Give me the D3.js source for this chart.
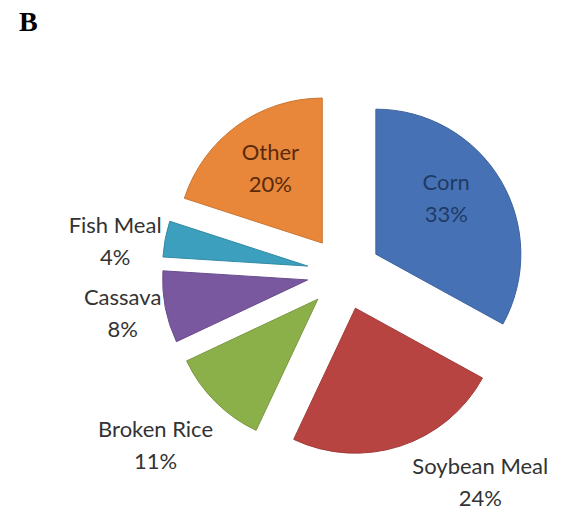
<!DOCTYPE html>
<html>
<head>
<meta charset="utf-8">
<script src="https://cdn.jsdelivr.net/npm/d3@7"></script>
<style>
  body { margin: 0; background: #fff; }
  svg { display: block; }
</style>
</head>
<body>
<svg id="chart"></svg>
<script>
const categories = ['Corn', 'Soybean Meal', 'Broken Rice', 'Cassava', 'Fish Meal', 'Other']
const values = [33, 24, 11, 8, 4, 20]
const colors = ['#4672b5', '#b84442', '#8bb04a', '#7a58a0', '#3b9fbd', '#e8873a']

const width = 571
const height = 516
const cx = 344
const cy = 273
const radius = 145
const explode = 37

const svg = d3.select('#chart').attr('width', width).attr('height', height)

svg.append('text')
  .attr('x', 19)
  .attr('y', 31)
  .attr('font-family', 'Liberation Serif, serif')
  .attr('font-weight', 'bold')
  .attr('font-size', 28)
  .text('B')

const pie = d3.pie().sort(null).value(d => d)
const arcs = pie(values)
const arc = d3.arc().innerRadius(0).outerRadius(radius)

const g = svg.append('g').attr('transform', 'translate(' + cx + ',' + cy + ')')

const offset = d => {
  const a = (d.startAngle + d.endAngle) / 2
  return [Math.sin(a) * explode, -Math.cos(a) * explode]
}

g.selectAll('path')
  .data(arcs)
  .enter()
  .append('path')
  .attr('d', arc)
  .attr('transform', d => 'translate(' + offset(d) + ')')
  .attr('fill', (d, i) => colors[i])
  .attr('stroke', (d, i) => d3.color(colors[i]).darker(0.4))
  .attr('stroke-width', 1)

// label placement: radial distance (fraction of radius) plus a small nudge
const labelDist = [0.62, 1.38, 1.3, 1.32, 1.38, 0.62]
const labelDx = [-7, 63, -29, 3, 4, 1]
const labelDy = [-10, -16, 13, -3, 12, -2]
const labelColor = ['#1f3a66', '#333', '#333', '#333', '#333', '#5a2a0c']

const labels = g.selectAll('g.lbl')
  .data(arcs)
  .enter()
  .append('g')
  .attr('class', 'lbl')
  .attr('transform', (d, i) => {
    const a = (d.startAngle + d.endAngle) / 2
    const o = offset(d)
    const r = radius * labelDist[i]
    const x = o[0] + Math.sin(a) * r + labelDx[i]
    const y = o[1] - Math.cos(a) * r + labelDy[i]
    return 'translate(' + x + ',' + y + ')'
  })
  .attr('font-family', 'Lato, sans-serif')
  .attr('font-size', 22)
  .attr('text-anchor', 'middle')
  .attr('fill', (d, i) => labelColor[i])

labels.append('text').attr('y', -8).text((d, i) => categories[i])
labels.append('text').attr('y', 24).text((d, i) => values[i] + '%')
</script>
</body>
</html>
